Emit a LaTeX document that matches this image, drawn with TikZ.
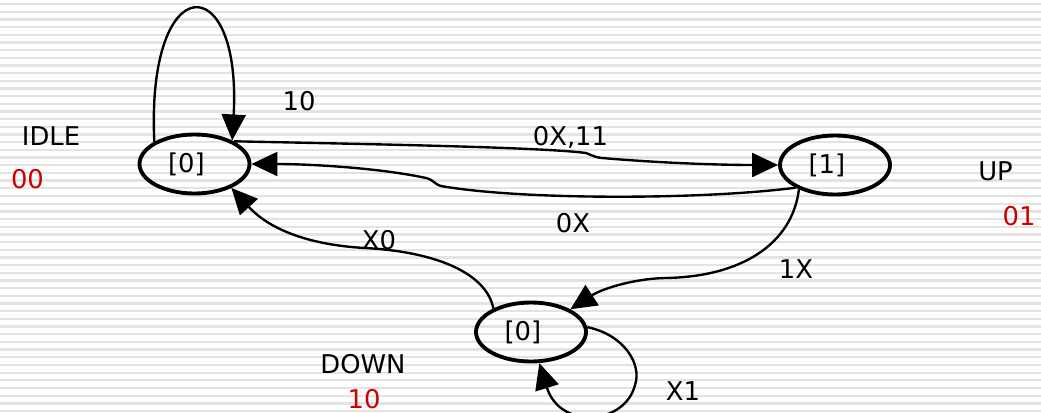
\documentclass[tikz,border=0pt]{standalone}
\usepackage{fontspec}
\setmainfont{DejaVu Sans}
\usepackage{xcolor}
\usetikzlibrary{shapes.geometric, arrows.meta}
\definecolor{fsmred}{HTML}{CC0000}
\definecolor{fsmstripe}{HTML}{E3E3E3}

\tikzset{
    state/.style={ellipse, draw, line width=2.2pt, minimum width=2.2cm, minimum height=1.18cm, inner sep=0pt,
        text width=1.06cm, align=left, text height=1.14em, text depth=0.13em},
    trans/.style={line width=1.35pt, -{Triangle[length=0.52cm, width=0.48cm]}},
    lbl/.style={inner sep=0pt, anchor=base},
    code/.style={lbl, text=fsmred},
}

\begin{document}
\begin{tikzpicture}[x=0.2mm, y=-0.2mm, font=\fontsize{14.7}{17}\selectfont]
    \clip (0,0) rectangle (1041,412);
    \fill[white] (0,0) rectangle (1041,412);
    % striped background
    \foreach \k in {0,...,53}
        \draw[fsmstripe, line width=1.3pt] (0,{4+7.68*\k}) -- (1041,{4+7.68*\k});

    % States
    \node[state] (idle) at (194.5,164) {[0]};
    \node[state] (up) at (835,165) {[1]};
    \node[state] (down) at (531,332) {[0]};

    % State names and codes
    \node[lbl] (idlename) at (51,145) {IDLE};
    \node[code] (idlecode) at (27.5,188) {00};
    \node[lbl] (upname) at (995.5,180) {UP};
    \node[code] (upcode) at (1019,225) {01};
    \node[lbl] (downname) at (363,373) {DOWN};
    \node[code] (downcode) at (364,408) {10};

    % Transitions
    \draw[trans] (idle.151) .. controls (146,-33) and (242,-33) .. (idle.32);
    \node[lbl] (t10) at (299,110) {10};

    \draw[trans] (idle.30) .. controls (360,144) and (540,147) .. (586,153)
        .. controls (591,154) and (592,157) .. (602,158)
        .. controls (660,163) and (720,165) .. (up.west);
    \node[lbl] (t0x11) at (570.5,145) {0X,11};

    \draw[trans] (up.210) .. controls (700,200) and (520,200) .. (441,186)
        .. controls (434,184) and (434,180) .. (426,178)
        .. controls (380,168) and (310,164) .. (idle.east);
    \node[lbl] (t0x) at (573,232) {0X};

    \draw[trans] (up.214) .. controls (792,245) and (740,277) .. (665,278)
        .. controls (630,279) and (600,290) .. (down.30);
    \node[lbl] (t1x) at (796,278) {1X};

    \draw[trans] (down.148) .. controls (487,275) and (440,252) .. (365,248)
        .. controls (310,245) and (270,230) .. (idle.-33);
    \node[lbl] (tx0) at (379,249) {X0};

    \draw[trans] (down.5) .. controls (625,335) and (642,365) .. (635,385)
        .. controls (625,425) and (560,430) .. (down.-75);
    \node[lbl] (tx1) at (683,400) {X1};
\end{tikzpicture}
\end{document}
